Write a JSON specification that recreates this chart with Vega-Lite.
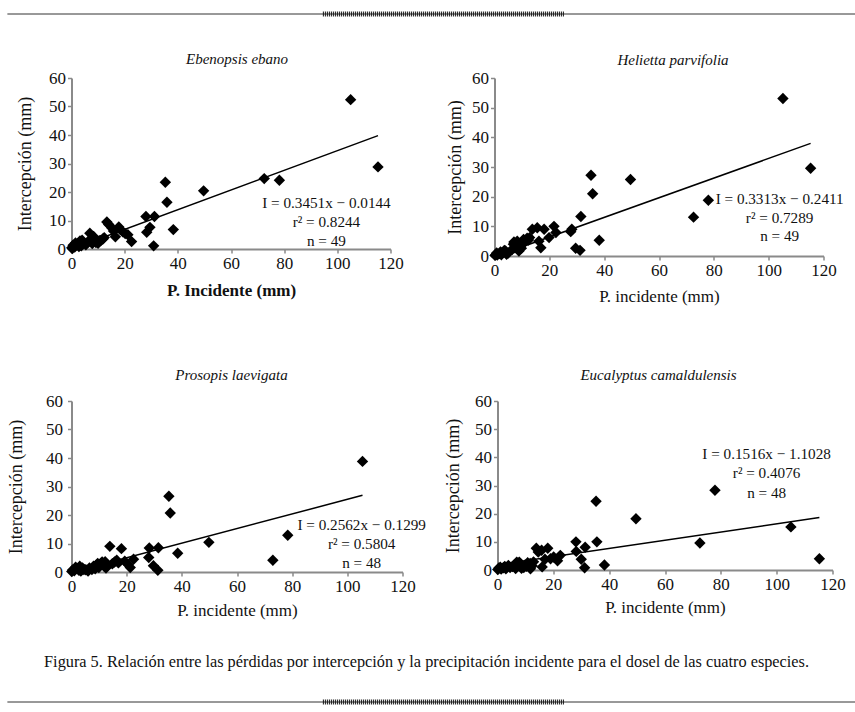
{
  "$schema": "https://vega.github.io/schema/vega-lite/v6.json",
  "background": "white",
  "padding": {"left": 6.5, "top": 11, "right": 0, "bottom": 0},
  "datasets": {
    "pts": [
      {"sp":"E","x":105,"y":52.4},{"sp":"E","x":115.3,"y":28.8},{"sp":"E","x":72.5,"y":24.7},{"sp":"E","x":78.2,"y":24.1},{"sp":"E","x":49.7,"y":20.4},{"sp":"E","x":35.3,"y":23.4},{"sp":"E","x":35.9,"y":16.4},{"sp":"E","x":38.3,"y":6.8},{"sp":"E","x":28.0,"y":11.4},{"sp":"E","x":31.2,"y":11.4},{"sp":"E","x":30.9,"y":1.1},{"sp":"E","x":29.5,"y":7.6},{"sp":"E","x":28.3,"y":5.9},{"sp":"E","x":13.3,"y":9.5},{"sp":"E","x":15.2,"y":7.4},{"sp":"E","x":17.8,"y":7.7},{"sp":"E","x":16.5,"y":4.3},{"sp":"E","x":19.3,"y":6.0},{"sp":"E","x":21.2,"y":5.0},{"sp":"E","x":22.6,"y":2.6},{"sp":"E","x":14.0,"y":8.6},{"sp":"E","x":15.8,"y":6.3},{"sp":"E","x":18.3,"y":6.9},{"sp":"E","x":6.9,"y":5.5},{"sp":"E","x":8.3,"y":4.4},{"sp":"E","x":7.8,"y":1.9},{"sp":"E","x":10.5,"y":2.9},{"sp":"E","x":11.8,"y":3.5},{"sp":"E","x":12.3,"y":4.0},{"sp":"E","x":9.2,"y":2.3},{"sp":"E","x":4.4,"y":2.1},{"sp":"E","x":3.2,"y":2.8},{"sp":"E","x":1.9,"y":1.5},{"sp":"E","x":0.6,"y":1.3},{"sp":"E","x":0.1,"y":0.4},{"sp":"E","x":1.2,"y":0.7},{"sp":"E","x":3.7,"y":1.1},{"sp":"E","x":5.4,"y":1.5},{"sp":"E","x":0.3,"y":0.2},{"sp":"E","x":2.4,"y":1.9},{"sp":"E","x":2.8,"y":0.9},{"sp":"E","x":4.0,"y":3.1},{"sp":"E","x":6.2,"y":2.4},{"sp":"E","x":7.3,"y":3.6},{"sp":"E","x":8.8,"y":3.0},{"sp":"E","x":10.0,"y":2.0},{"sp":"E","x":11.0,"y":3.0},{"sp":"E","x":1.5,"y":2.1},{"sp":"E","x":20.2,"y":5.4},
      {"sp":"H","x":105.2,"y":53.1},{"sp":"H","x":115.3,"y":29.6},{"sp":"H","x":78.0,"y":18.8},{"sp":"H","x":72.6,"y":13.1},{"sp":"H","x":49.6,"y":25.8},{"sp":"H","x":35.2,"y":27.2},{"sp":"H","x":35.8,"y":21.0},{"sp":"H","x":38.2,"y":5.3},{"sp":"H","x":31.5,"y":13.3},{"sp":"H","x":29.6,"y":2.6},{"sp":"H","x":31.2,"y":1.9},{"sp":"H","x":28.2,"y":9.0},{"sp":"H","x":27.8,"y":8.2},{"sp":"H","x":21.7,"y":10.0},{"sp":"H","x":22.4,"y":7.9},{"sp":"H","x":19.9,"y":6.2},{"sp":"H","x":18.1,"y":9.0},{"sp":"H","x":15.6,"y":9.5},{"sp":"H","x":13.8,"y":9.0},{"sp":"H","x":16.2,"y":5.0},{"sp":"H","x":16.9,"y":2.8},{"sp":"H","x":11.9,"y":6.0},{"sp":"H","x":11.3,"y":5.0},{"sp":"H","x":10.1,"y":3.9},{"sp":"H","x":8.3,"y":5.0},{"sp":"H","x":7.1,"y":4.7},{"sp":"H","x":7.7,"y":3.5},{"sp":"H","x":8.9,"y":1.7},{"sp":"H","x":6.4,"y":2.2},{"sp":"H","x":4.0,"y":1.7},{"sp":"H","x":3.0,"y":1.1},{"sp":"H","x":1.9,"y":0.8},{"sp":"H","x":1.0,"y":0.3},{"sp":"H","x":3.6,"y":1.9},{"sp":"H","x":0.2,"y":0.2},{"sp":"H","x":0.5,"y":0.5},{"sp":"H","x":2.5,"y":0.4},{"sp":"H","x":9.5,"y":4.2},{"sp":"H","x":10.6,"y":5.6},{"sp":"H","x":12.4,"y":5.4},{"sp":"H","x":7.4,"y":2.8},{"sp":"H","x":8.6,"y":3.2},{"sp":"H","x":5.0,"y":1.0},{"sp":"H","x":2.2,"y":1.4},{"sp":"H","x":12.8,"y":6.2},{"sp":"H","x":9.8,"y":2.6},{"sp":"H","x":6.9,"y":4.0},{"sp":"H","x":0.8,"y":1.0},{"sp":"H","x":4.4,"y":0.6},
      {"sp":"P","x":105.5,"y":38.8},{"sp":"P","x":78.4,"y":12.9},{"sp":"P","x":73.0,"y":4.1},{"sp":"P","x":49.8,"y":10.4},{"sp":"P","x":38.5,"y":6.6},{"sp":"P","x":35.3,"y":26.6},{"sp":"P","x":35.8,"y":20.7},{"sp":"P","x":31.5,"y":8.5},{"sp":"P","x":28.2,"y":8.4},{"sp":"P","x":28.0,"y":5.1},{"sp":"P","x":29.7,"y":2.2},{"sp":"P","x":31.3,"y":0.6},{"sp":"P","x":13.9,"y":9.0},{"sp":"P","x":18.1,"y":8.2},{"sp":"P","x":22.5,"y":4.5},{"sp":"P","x":21.3,"y":1.6},{"sp":"P","x":16.4,"y":4.1},{"sp":"P","x":15.6,"y":3.5},{"sp":"P","x":19.3,"y":3.8},{"sp":"P","x":20.5,"y":2.6},{"sp":"P","x":11.1,"y":3.5},{"sp":"P","x":11.9,"y":2.0},{"sp":"P","x":9.9,"y":1.6},{"sp":"P","x":9.0,"y":2.5},{"sp":"P","x":8.0,"y":2.0},{"sp":"P","x":7.4,"y":0.9},{"sp":"P","x":4.0,"y":1.4},{"sp":"P","x":3.4,"y":0.3},{"sp":"P","x":2.2,"y":1.2},{"sp":"P","x":0.4,"y":0.7},{"sp":"P","x":0.1,"y":0.2},{"sp":"P","x":12.5,"y":1.4},{"sp":"P","x":10.6,"y":3.0},{"sp":"P","x":12.2,"y":3.6},{"sp":"P","x":17.0,"y":3.2},{"sp":"P","x":14.8,"y":2.9},{"sp":"P","x":6.5,"y":1.4},{"sp":"P","x":5.2,"y":0.8},{"sp":"P","x":1.5,"y":1.7},{"sp":"P","x":3.0,"y":2.0},{"sp":"P","x":8.6,"y":1.1},{"sp":"P","x":10.2,"y":2.4},{"sp":"P","x":1.0,"y":0.4},{"sp":"P","x":2.7,"y":0.6},{"sp":"P","x":6.0,"y":0.3},{"sp":"P","x":13.0,"y":2.4},{"sp":"P","x":9.5,"y":3.0},{"sp":"P","x":4.5,"y":0.9},
      {"sp":"C","x":77.9,"y":28.3},{"sp":"C","x":105.1,"y":15.3},{"sp":"C","x":115.3,"y":4.0},{"sp":"C","x":72.5,"y":9.6},{"sp":"C","x":49.6,"y":18.2},{"sp":"C","x":35.3,"y":24.4},{"sp":"C","x":35.6,"y":10.0},{"sp":"C","x":38.3,"y":1.8},{"sp":"C","x":28.1,"y":10.0},{"sp":"C","x":28.2,"y":6.6},{"sp":"C","x":31.4,"y":8.1},{"sp":"C","x":30.0,"y":3.8},{"sp":"C","x":31.2,"y":0.8},{"sp":"C","x":22.5,"y":5.2},{"sp":"C","x":21.5,"y":3.3},{"sp":"C","x":20.1,"y":4.6},{"sp":"C","x":18.0,"y":7.7},{"sp":"C","x":15.8,"y":7.0},{"sp":"C","x":13.9,"y":7.7},{"sp":"C","x":17.0,"y":3.8},{"sp":"C","x":16.0,"y":1.1},{"sp":"C","x":11.7,"y":2.3},{"sp":"C","x":11.8,"y":0.4},{"sp":"C","x":9.9,"y":1.8},{"sp":"C","x":8.1,"y":2.2},{"sp":"C","x":6.9,"y":2.8},{"sp":"C","x":9.4,"y":0.9},{"sp":"C","x":3.9,"y":1.6},{"sp":"C","x":2.1,"y":0.8},{"sp":"C","x":0.5,"y":0.7},{"sp":"C","x":0.1,"y":0.2},{"sp":"C","x":10.8,"y":2.6},{"sp":"C","x":12.4,"y":1.5},{"sp":"C","x":7.5,"y":1.6},{"sp":"C","x":8.6,"y":0.6},{"sp":"C","x":5.4,"y":1.2},{"sp":"C","x":3.0,"y":0.4},{"sp":"C","x":1.3,"y":0.3},{"sp":"C","x":4.5,"y":0.9},{"sp":"C","x":6.2,"y":1.9},{"sp":"C","x":10.4,"y":1.3},{"sp":"C","x":12.9,"y":2.9},{"sp":"C","x":2.6,"y":1.3},{"sp":"C","x":1.0,"y":1.0},{"sp":"C","x":7.8,"y":2.8},{"sp":"C","x":19.0,"y":4.0},{"sp":"C","x":14.6,"y":6.4},{"sp":"C","x":6.5,"y":0.5}
    ],
    "fit": [
      {"sp":"E","x":0.1,"y":0.02},{"sp":"E","x":115.3,"y":39.77},
      {"sp":"H","x":0.73,"y":0.0},{"sp":"H","x":115.3,"y":37.96},
      {"sp":"P","x":0.5,"y":0.0},{"sp":"P","x":105.5,"y":26.9},
      {"sp":"C","x":0.1,"y":1.9},{"sp":"C","x":115.3,"y":18.6}
    ],
    "ann": [
      {"sp":"E","x":95.9,"y":16.1,"label":"I = 0.3451x − 0.0144"},{"sp":"E","x":95.9,"y":9.6,"label":"r² = 0.8244"},{"sp":"E","x":95.9,"y":2.8,"label":"n = 49"},
      {"sp":"H","x":104.0,"y":19.1,"label":"I = 0.3313x − 0.2411"},{"sp":"H","x":104.0,"y":12.7,"label":"r² = 0.7289"},{"sp":"H","x":104.0,"y":6.7,"label":"n = 49"},
      {"sp":"P","x":105.2,"y":16.6,"label":"I = 0.2562x − 0.1299"},{"sp":"P","x":105.2,"y":9.8,"label":"r² = 0.5804"},{"sp":"P","x":105.2,"y":3.2,"label":"n = 48"},
      {"sp":"C","x":96.4,"y":41.3,"label":"I = 0.1516x − 1.1028"},{"sp":"C","x":96.4,"y":34.3,"label":"r² = 0.4076"},{"sp":"C","x":96.4,"y":27.5,"label":"n = 48"}
    ],
    "deco": [
      {"part":"line","a":-7.5,"b":100},
      {"part":"hatch","a":29.4,"b":57.7}
    ]
  },
  "config": {
    "font": "Liberation Serif",
    "view": {"stroke": null},
    "axis": {"grid": false, "domainColor": "#8a8a8a", "domainWidth": 2, "tickColor": "#8a8a8a", "tickWidth": 1.5, "tickSize": 4, "labelFont": "Liberation Serif", "labelFontSize": 17, "labelColor": "#111", "labelPadding": 2, "labelFlush": false, "titleFont": "Liberation Serif", "titleFontSize": 17, "titleFontWeight": "normal", "titleColor": "#111"},
    "axisY": {"titleFontSize": 18},
    "title": {"font": "Liberation Serif", "fontSize": 15, "fontStyle": "italic", "fontWeight": "normal", "color": "#111", "anchor": "middle"},
    "text": {"font": "Liberation Serif", "fontSize": 15.2, "color": "#111"}
  },
  "spacing": 35,
  "vconcat": [
    {
      "width": 855, "height": 6,
      "data": {"name": "deco"},
      "layer": [
        {"transform": [{"filter": "datum.part == 'line'"}], "mark": {"type": "rule", "color": "#333", "strokeWidth": 1}, "encoding": {"x": {"field": "a", "type": "quantitative", "scale": {"domain": [0, 100]}, "axis": null}, "x2": {"field": "b"}, "y": {"value": 3}}},
        {"transform": [{"filter": "datum.part == 'hatch'"}], "mark": {"type": "rule", "color": "#111", "strokeWidth": 5, "strokeDash": [1, 1]}, "encoding": {"x": {"field": "a", "type": "quantitative", "scale": {"domain": [0, 100]}, "axis": null}, "x2": {"field": "b"}, "y": {"value": 3}}}
      ]
    },
    {
      "spacing": 64,
      "vconcat": [
        {
          "spacing": 43,
          "hconcat": [
            {
              "width": 319, "height": 171,
              "title": {"text": "Ebenopsis ebano", "dx": 6, "offset": 2},
              "encoding": {
                "x": {"field": "x", "type": "quantitative", "scale": {"domain": [0, 120], "nice": false}, "axis": {"values": [0, 20, 40, 60, 80, 100, 120], "title": "P. Incidente (mm)", "titleFontWeight": "bold", "titlePadding": 11}},
                "y": {"field": "y", "type": "quantitative", "scale": {"domain": [0, 60], "nice": false}, "axis": {"values": [0, 10, 20, 30, 40, 50, 60], "title": "Intercepción (mm)", "titlePadding": 14}}
              },
              "layer": [
                {"data": {"name": "pts"}, "transform": [{"filter": "datum.sp == 'E'"}], "mark": {"type": "point", "shape": "diamond", "filled": true, "size": 130, "color": "#000", "opacity": 1}},
                {"data": {"name": "fit"}, "transform": [{"filter": "datum.sp == 'E'"}], "mark": {"type": "line", "color": "#000", "strokeWidth": 1.5}},
                {"data": {"name": "ann"}, "transform": [{"filter": "datum.sp == 'E'"}], "mark": {"type": "text", "align": "center", "baseline": "middle"}, "encoding": {"text": {"field": "label"}}}
              ]
            },
            {
              "width": 329, "height": 178,
              "title": {"text": "Helietta parvifolia", "dx": 14, "offset": 1},
              "encoding": {
                "x": {"field": "x", "type": "quantitative", "scale": {"domain": [0, 120], "nice": false}, "axis": {"values": [0, 20, 40, 60, 80, 100, 120], "title": "P. incidente (mm)", "titlePadding": 10}},
                "y": {"field": "y", "type": "quantitative", "scale": {"domain": [0, 60], "nice": false}, "axis": {"values": [0, 10, 20, 30, 40, 50, 60], "title": "Intercepción (mm)", "titlePadding": 7}}
              },
              "layer": [
                {"data": {"name": "pts"}, "transform": [{"filter": "datum.sp == 'H'"}], "mark": {"type": "point", "shape": "diamond", "filled": true, "size": 130, "color": "#000", "opacity": 1}},
                {"data": {"name": "fit"}, "transform": [{"filter": "datum.sp == 'H'"}], "mark": {"type": "line", "color": "#000", "strokeWidth": 1.5}},
                {"data": {"name": "ann"}, "transform": [{"filter": "datum.sp == 'H'"}], "mark": {"type": "text", "align": "center", "baseline": "middle"}, "encoding": {"text": {"field": "label"}}}
              ]
            }
          ]
        },
        {
          "spacing": 18,
          "hconcat": [
            {
              "width": 331, "height": 171,
              "title": {"text": "Prosopis laevigata", "dx": -5.5, "offset": 9},
              "encoding": {
                "x": {"field": "x", "type": "quantitative", "scale": {"domain": [0, 120], "nice": false}, "axis": {"values": [0, 20, 40, 60, 80, 100, 120], "title": "P. incidente (mm)", "titlePadding": 8}},
                "y": {"field": "y", "type": "quantitative", "scale": {"domain": [0, 60], "nice": false}, "axis": {"values": [0, 10, 20, 30, 40, 50, 60], "title": "Intercepción (mm)", "titlePadding": 20, "labelPadding": 5}}
              },
              "layer": [
                {"data": {"name": "pts"}, "transform": [{"filter": "datum.sp == 'P'"}], "mark": {"type": "point", "shape": "diamond", "filled": true, "size": 130, "color": "#000", "opacity": 1}},
                {"data": {"name": "fit"}, "transform": [{"filter": "datum.sp == 'P'"}], "mark": {"type": "line", "color": "#000", "strokeWidth": 1.5}},
                {"data": {"name": "ann"}, "transform": [{"filter": "datum.sp == 'P'"}], "mark": {"type": "text", "align": "center", "baseline": "middle"}, "encoding": {"text": {"field": "label"}}}
              ]
            },
            {
              "width": 335, "height": 169,
              "title": {"text": "Eucalyptus camaldulensis", "dx": -6.5, "offset": 9},
              "encoding": {
                "x": {"field": "x", "type": "quantitative", "scale": {"domain": [0, 120], "nice": false}, "axis": {"values": [0, 20, 40, 60, 80, 100, 120], "title": "P. incidente (mm)", "titlePadding": 7}},
                "y": {"field": "y", "type": "quantitative", "scale": {"domain": [0, 60], "nice": false}, "axis": {"values": [0, 10, 20, 30, 40, 50, 60], "title": "Intercepción (mm)", "titlePadding": 12}}
              },
              "layer": [
                {"data": {"name": "pts"}, "transform": [{"filter": "datum.sp == 'C'"}], "mark": {"type": "point", "shape": "diamond", "filled": true, "size": 130, "color": "#000", "opacity": 1}},
                {"data": {"name": "fit"}, "transform": [{"filter": "datum.sp == 'C'"}], "mark": {"type": "line", "color": "#000", "strokeWidth": 1.5}},
                {"data": {"name": "ann"}, "transform": [{"filter": "datum.sp == 'C'"}], "mark": {"type": "text", "align": "center", "baseline": "middle"}, "encoding": {"text": {"field": "label"}}}
              ]
            }
          ]
        }
      ]
    },
    {
      "width": 855, "height": 6,
      "data": {"name": "deco"},
      "title": {"text": "Figura 5. Relación entre las pérdidas por intercepción y la precipitación incidente para el dosel de las cuatro especies.", "fontStyle": "normal", "fontSize": 16.3, "dx": -72.5, "offset": 29},
      "layer": [
        {"transform": [{"filter": "datum.part == 'line'"}], "mark": {"type": "rule", "color": "#333", "strokeWidth": 1}, "encoding": {"x": {"field": "a", "type": "quantitative", "scale": {"domain": [0, 100]}, "axis": null}, "x2": {"field": "b"}, "y": {"value": 3}}},
        {"transform": [{"filter": "datum.part == 'hatch'"}], "mark": {"type": "rule", "color": "#111", "strokeWidth": 5, "strokeDash": [1, 1]}, "encoding": {"x": {"field": "a", "type": "quantitative", "scale": {"domain": [0, 100]}, "axis": null}, "x2": {"field": "b"}, "y": {"value": 3}}}
      ]
    }
  ]
}
